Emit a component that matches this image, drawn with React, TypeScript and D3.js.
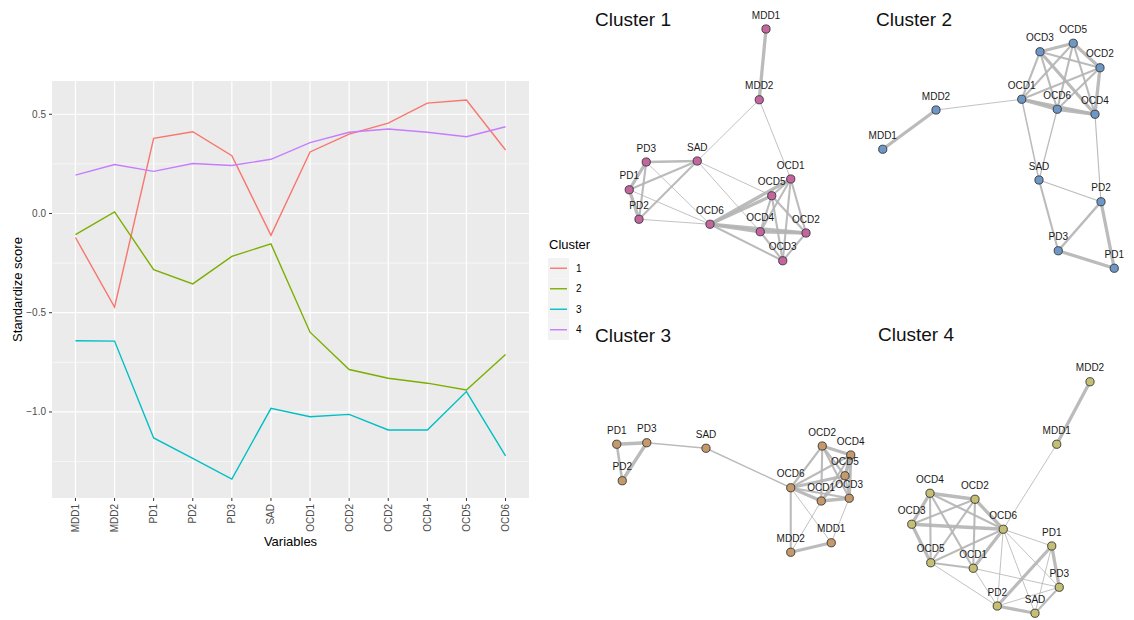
import React from 'react';
import * as d3 from 'd3';

// ---------- Profile data (standardized scores per variable) ----------
const variables = ['MDD1', 'MDD2', 'PD1', 'PD2', 'PD3', 'SAD', 'OCD1', 'OCD2', 'OCD2', 'OCD4', 'OCD5', 'OCD6'];
const clusterIds = ['1', '2', '3', '4'];
const cluster1Scores = [-0.121, -0.472, 0.379, 0.412, 0.291, -0.110, 0.310, 0.400, 0.455, 0.556, 0.572, 0.320];
const cluster2Scores = [-0.106, 0.008, -0.283, -0.355, -0.216, -0.153, -0.598, -0.786, -0.830, -0.855, -0.889, -0.711];
const cluster3Scores = [-0.641, -0.643, -1.131, -1.234, -1.338, -0.982, -1.024, -1.012, -1.091, -1.091, -0.897, -1.221];
const cluster4Scores = [0.193, 0.247, 0.212, 0.252, 0.242, 0.273, 0.357, 0.409, 0.426, 0.409, 0.387, 0.437];
const yMajorTicks = [-1.0, -0.5, 0.0, 0.5];
const yMinorTicks = [-1.25, -0.75, -0.25, 0.25];
const lineColors = ['#F8766D', '#7CAE00', '#00BFC4', '#C77CFF'];

// ---------- Network layouts (normalized layout units) and edges (weight 1-3) ----------
type Node = { id: string; x: number; y: number };
type Edge = [string, string, number];

const net1Nodes: Node[] = [
  { id: 'MDD1', x: 0.744, y: 0.116 }, { id: 'MDD2', x: 0.717, y: 0.399 },
  { id: 'PD3', x: 0.265, y: 0.648 }, { id: 'SAD', x: 0.469, y: 0.644 },
  { id: 'PD1', x: 0.197, y: 0.759 }, { id: 'PD2', x: 0.236, y: 0.877 },
  { id: 'OCD6', x: 0.520, y: 0.897 }, { id: 'OCD1', x: 0.843, y: 0.716 },
  { id: 'OCD5', x: 0.767, y: 0.783 }, { id: 'OCD4', x: 0.721, y: 0.927 },
  { id: 'OCD2', x: 0.904, y: 0.932 }, { id: 'OCD3', x: 0.811, y: 1.043 },
];
const net1Edges: Edge[] = [
  ['MDD1', 'MDD2', 3], ['MDD2', 'SAD', 1], ['MDD2', 'OCD1', 1],
  ['PD3', 'SAD', 2.2], ['PD3', 'PD1', 3], ['PD3', 'PD2', 2], ['PD1', 'PD2', 3],
  ['PD1', 'SAD', 2], ['PD2', 'SAD', 2], ['PD3', 'OCD6', 1], ['PD1', 'OCD6', 1], ['PD2', 'OCD6', 1],
  ['SAD', 'OCD5', 1], ['SAD', 'OCD4', 1],
  ['OCD6', 'OCD1', 3], ['OCD6', 'OCD5', 3], ['OCD6', 'OCD4', 3], ['OCD6', 'OCD2', 3], ['OCD6', 'OCD3', 2],
  ['OCD1', 'OCD5', 2], ['OCD1', 'OCD4', 2], ['OCD1', 'OCD2', 2], ['OCD1', 'OCD3', 2],
  ['OCD5', 'OCD4', 2], ['OCD5', 'OCD3', 2], ['OCD5', 'OCD2', 2],
  ['OCD4', 'OCD2', 3], ['OCD4', 'OCD3', 2], ['OCD2', 'OCD3', 2],
];

const net2Nodes: Node[] = [
  { id: 'OCD3', x: 0.720, y: 0.207 }, { id: 'OCD5', x: 0.853, y: 0.173 },
  { id: 'OCD2', x: 0.960, y: 0.271 }, { id: 'OCD1', x: 0.647, y: 0.397 },
  { id: 'OCD6', x: 0.789, y: 0.437 }, { id: 'OCD4', x: 0.940, y: 0.457 },
  { id: 'MDD2', x: 0.304, y: 0.440 }, { id: 'MDD1', x: 0.091, y: 0.597 },
  { id: 'SAD', x: 0.716, y: 0.720 }, { id: 'PD2', x: 0.964, y: 0.807 },
  { id: 'PD3', x: 0.793, y: 1.003 }, { id: 'PD1', x: 1.017, y: 1.073 },
];
const net2Edges: Edge[] = [
  ['MDD1', 'MDD2', 3], ['MDD2', 'OCD1', 1],
  ['OCD1', 'OCD6', 3.4], ['OCD1', 'OCD4', 3], ['OCD6', 'OCD4', 3],
  ['OCD1', 'OCD3', 2], ['OCD1', 'OCD5', 2], ['OCD1', 'OCD2', 2],
  ['OCD3', 'OCD5', 3], ['OCD3', 'OCD2', 2], ['OCD3', 'OCD6', 2], ['OCD3', 'OCD4', 3],
  ['OCD5', 'OCD2', 3], ['OCD5', 'OCD6', 2], ['OCD5', 'OCD4', 2],
  ['OCD2', 'OCD6', 2], ['OCD2', 'OCD4', 3],
  ['OCD1', 'SAD', 1.5], ['OCD6', 'SAD', 1.3], ['OCD4', 'PD2', 1.2],
  ['SAD', 'PD2', 1.2], ['SAD', 'PD3', 2], ['PD2', 'PD3', 2.4], ['PD2', 'PD1', 3], ['PD3', 'PD1', 3],
];

const net3Nodes: Node[] = [
  { id: 'PD1', x: 0.147, y: 0.537 }, { id: 'PD3', x: 0.267, y: 0.531 },
  { id: 'PD2', x: 0.169, y: 0.683 }, { id: 'SAD', x: 0.504, y: 0.553 },
  { id: 'OCD2', x: 0.969, y: 0.544 }, { id: 'OCD4', x: 1.083, y: 0.580 },
  { id: 'OCD5', x: 1.060, y: 0.663 }, { id: 'OCD6', x: 0.843, y: 0.711 },
  { id: 'OCD1', x: 0.965, y: 0.764 }, { id: 'OCD3', x: 1.077, y: 0.753 },
  { id: 'MDD2', x: 0.843, y: 0.969 }, { id: 'MDD1', x: 1.005, y: 0.931 },
];
const net3Edges: Edge[] = [
  ['PD1', 'PD3', 3], ['PD1', 'PD2', 2.4], ['PD3', 'PD2', 3], ['PD3', 'SAD', 1.4], ['SAD', 'OCD6', 1.4],
  ['OCD6', 'OCD2', 2], ['OCD6', 'OCD4', 2], ['OCD6', 'OCD5', 3], ['OCD6', 'OCD1', 3], ['OCD6', 'OCD3', 2],
  ['OCD6', 'MDD2', 2], ['OCD6', 'MDD1', 1],
  ['OCD2', 'OCD4', 3], ['OCD2', 'OCD5', 2], ['OCD2', 'OCD3', 2], ['OCD2', 'OCD1', 2],
  ['OCD4', 'OCD5', 3], ['OCD4', 'OCD3', 3], ['OCD4', 'OCD1', 2],
  ['OCD5', 'OCD3', 2], ['OCD5', 'OCD1', 2], ['OCD1', 'OCD3', 3],
  ['OCD1', 'MDD2', 1], ['OCD3', 'MDD1', 1], ['MDD2', 'MDD1', 3],
];

const net4Nodes: Node[] = [
  { id: 'MDD2', x: 0.920, y: 0.247 }, { id: 'MDD1', x: 0.787, y: 0.497 },
  { id: 'OCD4', x: 0.280, y: 0.693 }, { id: 'OCD2', x: 0.460, y: 0.717 },
  { id: 'OCD3', x: 0.207, y: 0.817 }, { id: 'OCD6', x: 0.573, y: 0.837 },
  { id: 'PD1', x: 0.767, y: 0.904 }, { id: 'OCD5', x: 0.283, y: 0.971 },
  { id: 'OCD1', x: 0.453, y: 0.993 }, { id: 'PD3', x: 0.797, y: 1.069 },
  { id: 'PD2', x: 0.549, y: 1.144 }, { id: 'SAD', x: 0.700, y: 1.173 },
];
const net4Edges: Edge[] = [
  ['MDD2', 'MDD1', 3], ['MDD1', 'OCD6', 1],
  ['OCD4', 'OCD2', 3], ['OCD4', 'OCD3', 3], ['OCD4', 'OCD6', 2], ['OCD4', 'OCD5', 2], ['OCD4', 'OCD1', 2],
  ['OCD2', 'OCD3', 2], ['OCD2', 'OCD6', 3], ['OCD2', 'OCD5', 2], ['OCD2', 'OCD1', 2],
  ['OCD3', 'OCD6', 3], ['OCD3', 'OCD5', 3], ['OCD6', 'OCD5', 2], ['OCD6', 'OCD1', 3],
  ['OCD6', 'PD1', 1], ['OCD6', 'PD3', 1], ['OCD6', 'PD2', 1], ['OCD6', 'SAD', 1],
  ['OCD5', 'OCD1', 2], ['OCD5', 'PD2', 1], ['OCD1', 'PD2', 1], ['OCD1', 'PD3', 1],
  ['PD1', 'PD3', 3], ['PD1', 'PD2', 3], ['PD1', 'SAD', 1], ['PD3', 'SAD', 2], ['PD3', 'PD2', 1], ['PD2', 'SAD', 3],
];

const networkTitles = ['Cluster 1', 'Cluster 2', 'Cluster 3', 'Cluster 4'];
const networkColors = ['#C4659F', '#6C97C6', '#C6996B', '#C4BF72'];

const FONT = '"Liberation Sans", Arial, Helvetica, sans-serif';

// ---------- Line chart (ggplot-like) ----------
function ProfileChart() {
  const panel = { left: 52, right: 529, top: 81, bottom: 498 };
  const series = [cluster1Scores, cluster2Scores, cluster3Scores, cluster4Scores];
  const all = series.flat();
  const [mn, mx] = d3.extent(all) as [number, number];
  const pad = (mx - mn) * 0.05;
  const x = d3.scaleLinear().domain([-0.6, variables.length - 0.4]).range([panel.left, panel.right]);
  const y = d3.scaleLinear().domain([mn - pad, mx + pad]).range([panel.bottom, panel.top]);
  const line = d3.line<number>().x((_, i) => x(i)).y((v) => y(v));
  const idx = d3.range(variables.length);

  return (
    <g fontFamily={FONT}>
      <rect x={panel.left} y={panel.top} width={panel.right - panel.left} height={panel.bottom - panel.top} fill="#EBEBEB" />
      {yMinorTicks.map((t) => (
        <line key={'mn' + t} x1={panel.left} x2={panel.right} y1={y(t)} y2={y(t)} stroke="#fff" strokeWidth={0.6} />
      ))}
      {yMajorTicks.map((t) => (
        <line key={'mj' + t} x1={panel.left} x2={panel.right} y1={y(t)} y2={y(t)} stroke="#fff" strokeWidth={1.2} />
      ))}
      {idx.map((i) => (
        <line key={'vx' + i} x1={x(i)} x2={x(i)} y1={panel.top} y2={panel.bottom} stroke="#fff" strokeWidth={1.2} />
      ))}
      {series.map((s, k) => (
        <path key={'s' + k} d={line(s) ?? ''} fill="none" stroke={lineColors[k]} strokeWidth={1.4} />
      ))}
      {/* y axis */}
      {yMajorTicks.map((t) => (
        <g key={'yt' + t}>
          <line x1={panel.left - 3} x2={panel.left} y1={y(t)} y2={y(t)} stroke="#333" strokeWidth={1} />
          <text x={panel.left - 6} y={y(t)} dy="0.35em" textAnchor="end" fontSize={10} fill="#4D4D4D">
            {d3.format('.1f')(t)}
          </text>
        </g>
      ))}
      {/* x axis */}
      {idx.map((i) => (
        <g key={'xt' + i}>
          <line x1={x(i)} x2={x(i)} y1={panel.bottom} y2={panel.bottom + 3} stroke="#333" strokeWidth={1} />
          <text
            transform={`translate(${x(i)},${panel.bottom + 6}) rotate(-90)`}
            dy="0.35em"
            textAnchor="end"
            fontSize={10}
            fill="#4D4D4D"
          >
            {variables[i]}
          </text>
        </g>
      ))}
      <text x={(panel.left + panel.right) / 2} y={546} textAnchor="middle" fontSize={13} fill="#000">Variables</text>
      <text transform={`translate(22,${(panel.top + panel.bottom) / 2}) rotate(-90)`} textAnchor="middle" fontSize={13} fill="#000">
        Standardize score
      </text>
      {/* legend */}
      <text x={549} y={249} fontSize={13} fill="#000">Cluster</text>
      {clusterIds.map((c, k) => {
        const ky = 258 + k * 20.5;
        return (
          <g key={'lg' + c}>
            <rect x={548} y={ky} width={21} height={20.5} fill="#F2F2F2" />
            <line x1={550} x2={567} y1={ky + 10.25} y2={ky + 10.25} stroke={lineColors[k]} strokeWidth={1.4} />
            <text x={576} y={ky + 10.25} dy="0.35em" fontSize={10} fill="#000">{c}</text>
          </g>
        );
      })}
    </g>
  );
}

// ---------- Network panel ----------
function Network({ nodes, edges, color, title, origin, titlePos }: {
  nodes: Node[]; edges: Edge[]; color: string; title: string;
  origin: [number, number]; titlePos: [number, number];
}) {
  const size = 250;
  const x = d3.scaleLinear().domain([0, 1]).range([origin[0], origin[0] + size]);
  const y = d3.scaleLinear().domain([0, 1]).range([origin[1], origin[1] + size]);
  const w = d3.scaleLinear().domain([1, 3]).range([0.9, 3.3]);
  const byId = new Map(nodes.map((n) => [n.id, n]));
  return (
    <g fontFamily={FONT}>
      <text x={titlePos[0]} y={titlePos[1]} fontSize={19} fill="#111">{title}</text>
      {edges.map(([a, b, wt], i) => {
        const na = byId.get(a)!;
        const nb = byId.get(b)!;
        return (
          <line key={'e' + i} x1={x(na.x)} y1={y(na.y)} x2={x(nb.x)} y2={y(nb.y)}
            stroke="#B4B4B4" strokeOpacity={0.9} strokeWidth={w(wt)} strokeLinecap="round" />
        );
      })}
      {nodes.map((n) => (
        <circle key={'n' + n.id} cx={x(n.x)} cy={y(n.y)} r={4.1} fill={color} stroke="#333" strokeWidth={0.9} />
      ))}
      {nodes.map((n) => (
        <text key={'t' + n.id} x={x(n.x)} y={y(n.y) - 10.5} textAnchor="middle" fontSize={10} fill="#1a1a1a">
          {n.id}
        </text>
      ))}
    </g>
  );
}

export default function App() {
  return (
    <div style={{ position: 'fixed', left: 0, top: 0, width: 1134, height: 620, background: '#fff' }}>
      <svg width={1134} height={620} style={{ display: 'block' }}>
        <rect width={1134} height={620} fill="#fff" />
        <ProfileChart />
        <Network nodes={net1Nodes} edges={net1Edges} color={networkColors[0]} title={networkTitles[0]} origin={[580, 0]} titlePos={[595, 26]} />
        <Network nodes={net2Nodes} edges={net2Edges} color={networkColors[1]} title={networkTitles[1]} origin={[860, 0]} titlePos={[876, 26]} />
        <Network nodes={net3Nodes} edges={net3Edges} color={networkColors[2]} title={networkTitles[2]} origin={[580, 310]} titlePos={[595, 342]} />
        <Network nodes={net4Nodes} edges={net4Edges} color={networkColors[3]} title={networkTitles[3]} origin={[860, 320]} titlePos={[878, 341]} />
      </svg>
    </div>
  );
}
